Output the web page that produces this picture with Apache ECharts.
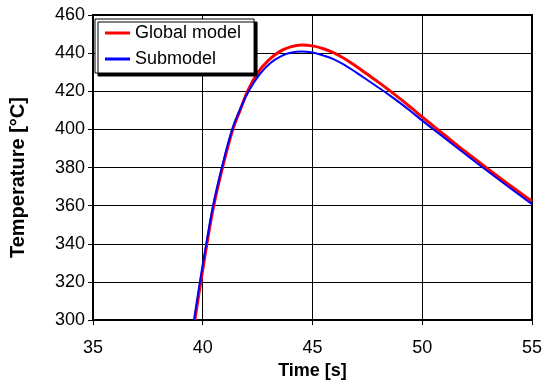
<!DOCTYPE html>
<html>
<head>
<meta charset="utf-8">
<script src="https://cdn.jsdelivr.net/npm/echarts@6/dist/echarts.min.js"></script>
<style>html,body{margin:0;padding:0;background:#fff;}#c{width:545px;height:385px;}</style>
</head>
<body>
<div id="c"></div>
<script>
var seriesNames = ['Global model', 'Submodel'];
var globalTime = [39.64, 39.91, 40.19, 40.5, 40.9, 41.37, 41.7, 42.04, 42.5, 43.0, 43.5, 44.0, 44.5, 45.0, 45.5, 46.0, 46.5, 47.0, 47.5, 48.0, 48.5, 49.0, 49.5, 50.0, 51.0, 52.0, 53.0, 54.0, 55.0];
var globalTemp = [300, 320, 340, 360, 380, 400, 410, 420, 429.5, 436.3, 440.8, 443.3, 444.3, 443.8, 442.3, 440.0, 436.8, 433.0, 428.9, 424.8, 420.5, 416.0, 411.3, 406.5, 397.2, 388.0, 379.2, 370.6, 362.3];
var subTime = [39.6, 39.87, 40.16, 40.47, 40.87, 41.34, 41.68, 42.09, 42.6, 43.1, 43.6, 44.0, 44.5, 45.0, 45.5, 46.0, 46.5, 47.0, 47.5, 48.0, 48.5, 49.0, 49.5, 50.0, 51.0, 52.0, 53.0, 54.0, 55.0];
var subTemp = [300, 320, 340, 360, 380, 400, 410, 420, 429.0, 435.0, 438.6, 440.2, 440.9, 440.3, 438.7, 436.6, 433.5, 429.8, 425.9, 422.0, 418.0, 413.8, 409.3, 404.6, 395.7, 386.7, 377.9, 369.3, 360.8];
var xTicks = [35, 40, 45, 50, 55];
var yTicks = [300, 320, 340, 360, 380, 400, 420, 440, 460];

function pairs(xs, ys) { return xs.map(function (x, i) { return [x, ys[i]]; }); }

var chart = echarts.init(document.getElementById('c'), null, {renderer: 'canvas'});
var font = 'Liberation Sans, Arial, sans-serif';
chart.setOption({
  animation: false,
  backgroundColor: '#fff',
  grid: {left: 89, right: 9, top: 15, bottom: 63, show: true, borderColor: '#000', borderWidth: 2, backgroundColor: 'transparent'},
  legend: {
    data: seriesNames,
    orient: 'vertical',
    left: 95, top: 19,
    backgroundColor: '#fff',
    borderColor: '#000', borderWidth: 1,
    shadowColor: '#000', shadowBlur: 0, shadowOffsetX: 3, shadowOffsetY: 3,
    padding: [5, 13, 5, 10],
    itemGap: 8,
    itemWidth: 25, itemHeight: 3,
    icon: 'rect',
    textStyle: {fontFamily: font, fontSize: 18, color: '#000'}
  },
  xAxis: {
    type: 'value', min: xTicks[0], max: xTicks[xTicks.length - 1], interval: 5,
    name: 'Time [s]', nameLocation: 'middle', nameGap: 41,
    nameTextStyle: {fontFamily: font, fontSize: 18, fontWeight: 'bold', color: '#000'},
    axisLine: {show: true, lineStyle: {color: '#000', width: 2}},
    axisTick: {show: true, inside: false, length: 5, lineStyle: {color: '#000', width: 1}},
    axisLabel: {fontFamily: font, fontSize: 18, color: '#000', margin: 19},
    splitLine: {show: true, lineStyle: {color: '#000', width: 1}}
  },
  yAxis: {
    type: 'value', min: yTicks[0], max: yTicks[yTicks.length - 1], interval: 20,
    name: 'Temperature [°C]', nameLocation: 'middle', nameGap: 65, nameRotate: 90,
    nameTextStyle: {fontFamily: font, fontSize: 20, fontWeight: 'bold', color: '#000', padding: [0, 20, 0, 0]},
    axisLine: {show: true, lineStyle: {color: '#000', width: 2}},
    axisTick: {show: true, inside: false, length: 5, lineStyle: {color: '#000', width: 1}},
    axisLabel: {fontFamily: font, fontSize: 18, color: '#000', margin: 8},
    splitLine: {show: true, lineStyle: {color: '#000', width: 1}}
  },
  series: [
    {name: seriesNames[0], type: 'line', data: pairs(globalTime, globalTemp), smooth: 0.4, showSymbol: false, color: '#ff0000', lineStyle: {color: '#ff0000', width: 3}, z: 2},
    {name: seriesNames[1], type: 'line', data: pairs(subTime, subTemp), smooth: 0.4, showSymbol: false, color: '#0000ff', lineStyle: {color: '#0000ff', width: 2}, z: 3}
  ]
});
</script>
</body>
</html>
